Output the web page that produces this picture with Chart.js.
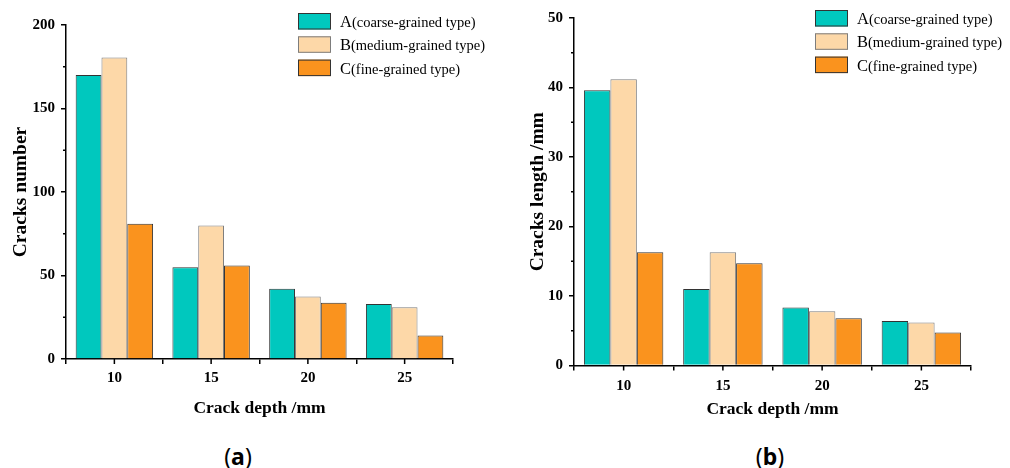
<!DOCTYPE html>
<html>
<head>
<meta charset="utf-8">
<script src="https://cdn.jsdelivr.net/npm/chart.js@4.4.0/dist/chart.umd.min.js"></script>
<style>
  html, body { margin: 0; padding: 0; background: #fff; }
  #wrap { position: relative; width: 1010px; height: 468px; overflow: hidden; }
  canvas { position: absolute; top: 0; }
  #chartA { left: 0; }
  #chartB { left: 505px; }
  .cap { position: absolute; top: 440px; width: 60px; text-align: center;
         font-family: "Noto Sans", sans-serif; font-size: 23px; color: #000; }
</style>
</head>
<body>
<div id="wrap">
  <canvas id="chartA" width="505" height="440"></canvas>
  <canvas id="chartB" width="505" height="440"></canvas>
  <div class="cap" style="left:208px">(<b>a</b>)</div>
  <div class="cap" style="left:740px">(<b>b</b>)</div>
</div>
<script>
// categories
const depths = ['10', '15', '20', '25'];
const typeNames = ['A(coarse-grained type)', 'B(medium-grained type)', 'C(fine-grained type)'];

// (a) cracks number
const countA = [170, 55, 42, 33];
const countB = [180.5, 80, 37.5, 31];
const countC = [81, 56, 33.7, 14];

// (b) cracks length /mm
const lengthA = [39.6, 11.0, 8.35, 6.4];
const lengthB = [41.2, 16.3, 7.8, 6.2];
const lengthC = [16.3, 14.7, 6.8, 4.75];

// y ticks
const countMax = 200, countStep = 50;
const lengthMax = 50, lengthStep = 10;

const fills = ['#00c8be', '#fdd8a8', '#fa931e'];
const borders = ['#333333', '#7d7d7d', '#333333'];
const serif = '"Liberation Serif", "Times New Roman", serif';

// short minor ticks on y, and centre ticks under each category
const extraTicks = {
  id: 'extraTicks',
  afterDraw(chart, args, o) {
    const ctx = chart.ctx, y = chart.scales.y, x = chart.scales.x;
    const area = chart.chartArea;
    ctx.save();
    ctx.strokeStyle = '#000';
    ctx.lineWidth = 1.5;
    ctx.beginPath();
    for (let v = o.step / 2; v < y.max; v += o.step) {
      const py = y.getPixelForValue(v);
      ctx.moveTo(area.left, py);
      ctx.lineTo(area.left - 3, py);
    }
    depths.forEach((d, i) => {
      const px = x.getPixelForValue(i);
      ctx.moveTo(px, area.bottom);
      ctx.lineTo(px, area.bottom + 5);
    });
    ctx.stroke();
    ctx.restore();
  }
};

// legend drawn top right, big first letter like the original
const sideLegend = {
  id: 'sideLegend',
  afterDraw(chart, args, o) {
    const ctx = chart.ctx;
    ctx.save();
    chart.data.datasets.forEach((ds, i) => {
      const top = o.y + i * 23.3;
      ctx.fillStyle = ds.backgroundColor;
      ctx.fillRect(o.x, top, 33, 16.5);
      ctx.strokeStyle = ds.borderColor;
      ctx.lineWidth = 1;
      ctx.strokeRect(o.x + 0.5, top + 0.5, 32, 15.5);
      ctx.fillStyle = '#000';
      ctx.textBaseline = 'alphabetic';
      ctx.font = '16.5px ' + serif;
      const first = ds.label.slice(0, 1), rest = ds.label.slice(1);
      ctx.fillText(first, o.x + 42, top + 14);
      const w = ctx.measureText(first).width;
      ctx.font = '14.5px ' + serif;
      ctx.fillText(rest, o.x + 42 + w, top + 14);
    });
    ctx.restore();
  }
};

function makeChart(id, series, cfg) {
  const datasets = series.map((vals, i) => ({
    label: typeNames[i],
    data: vals,
    backgroundColor: fills[i],
    borderColor: borders[i],
    borderWidth: 1,
    borderSkipped: 'bottom',
    categoryPercentage: 0.8,
    barPercentage: 1.0
  }));

  return new Chart(document.getElementById(id), {
    type: 'bar',
    data: { labels: depths, datasets: datasets },
    plugins: [extraTicks, sideLegend],
    options: {
      responsive: false,
      animation: false,
      layout: { padding: cfg.pad },
      plugins: {
        legend: { display: false },
        tooltip: { enabled: false },
        extraTicks: { step: cfg.step },
        sideLegend: { x: cfg.legendX, y: cfg.legendY }
      },
      scales: {
        x: {
          offset: true,
          grid: { display: true, offset: true, drawOnChartArea: false, tickLength: 5, color: '#000', lineWidth: 1.5 },
          border: { display: true, color: '#000', width: 1.5 },
          ticks: { color: '#000', padding: cfg.xPad, font: { family: serif, size: 15, weight: 'bold' } },
          title: { display: true, text: 'Crack depth /mm', color: '#000', padding: 0,
                   font: { family: serif, size: 17.5, weight: 'bold' } },
          afterFit: (s) => { s.height = cfg.xHeight; }
        },
        y: {
          min: 0,
          max: cfg.max,
          grid: { display: true, drawOnChartArea: false, tickLength: 5, color: '#000', lineWidth: 1.5 },
          border: { display: true, color: '#000', width: 1.5 },
          ticks: { stepSize: cfg.step, color: '#000', padding: 6, font: { family: serif, size: 15, weight: 'bold' } },
          title: { display: true, text: cfg.title, color: '#000', padding: 0,
                   font: { family: serif, size: 19.5, weight: 'bold' } },
          afterFit: (s) => { s.width = cfg.yWidth; }
        }
      }
    }
  });
}

makeChart('chartA', [countA, countB, countC], {
  max: countMax, step: countStep, title: 'Cracks number',
  pad: { left: 9, top: 25, right: 52, bottom: 21.5 },
  yWidth: 57, xHeight: 59.5, xPad: 5,
  legendX: 298, legendY: 13
});

makeChart('chartB', [lengthA, lengthB, lengthC], {
  max: lengthMax, step: lengthStep, title: 'Cracks length /mm',
  pad: { left: 21, top: 18, right: 39, bottom: 20.5 },
  yWidth: 48, xHeight: 54, xPad: 7,
  legendX: 310, legendY: 10
});
</script>
</body>
</html>
